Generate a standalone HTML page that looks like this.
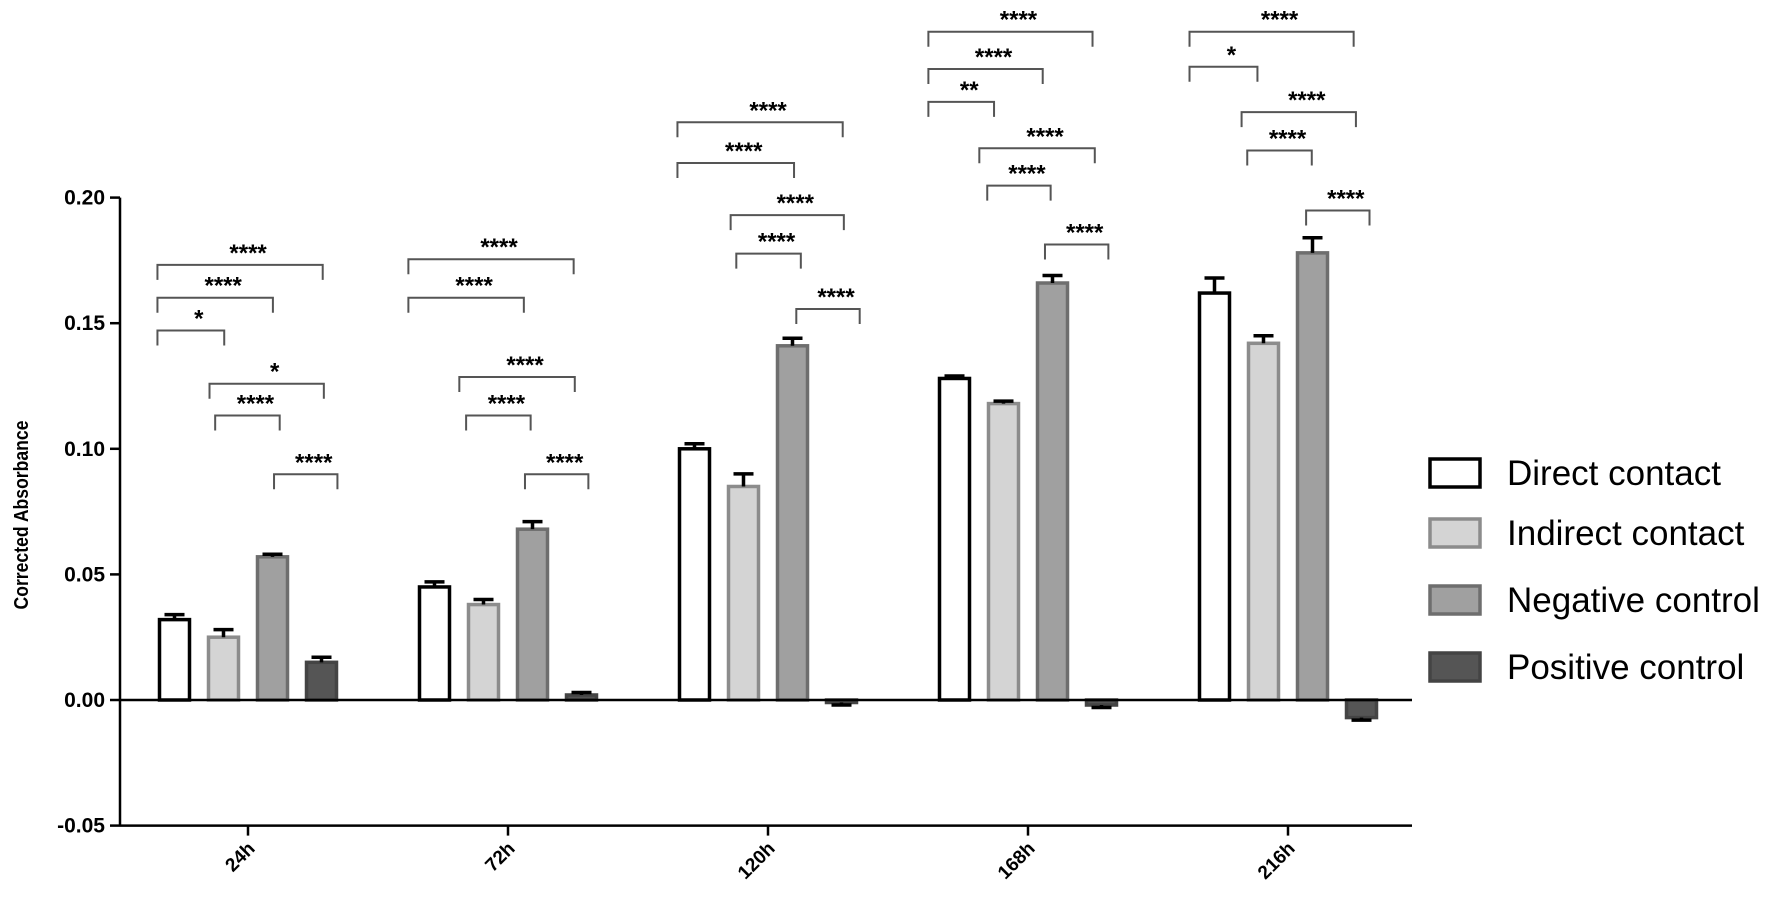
<!DOCTYPE html>
<html><head><meta charset="utf-8"><style>
html,body{margin:0;padding:0;background:#fff;}
svg{display:block;font-family:"Liberation Sans",sans-serif;}
</style></head><body>
<svg id="chart" width="1772" height="901" viewBox="0 0 1772 901" xmlns="http://www.w3.org/2000/svg">
<g id="plot"></g>
</svg>
<script>
const categories = ["24h","72h","120h","168h","216h"];
const seriesNames = ["Direct contact","Indirect contact","Negative control","Positive control"];
const directVals = [0.032,0.045,0.100,0.128,0.162];
const indirectVals = [0.025,0.038,0.085,0.118,0.142];
const negativeVals = [0.057,0.068,0.141,0.166,0.178];
const positiveVals = [0.015,0.002,-0.001,-0.002,-0.007];
const directErr = [0.002,0.002,0.002,0.001,0.006];
const indirectErr = [0.003,0.002,0.005,0.001,0.003];
const negativeErr = [0.001,0.003,0.003,0.003,0.006];
const positiveErr = [0.002,0.001,0.001,0.001,0.001];
const yTicks = [-0.05,0,0.05,0.10,0.15,0.20];
const yTickLabels = ["-0.05","0.00","0.05","0.10","0.15","0.20"];
// significance annotations: [group, x1 offset, x2 offset, y (perceived scale), label]
const sigs = [
 [0,-80,66,234,"****"],[0,-80,22,263,"****"],[0,-80,-21,292,"*"],[0,-34,67,339,"*"],[0,-29,28,367,"****"],[0,23,79,419,"****"],
 [1,-88,58,229,"****"],[1,-88,14,263,"****"],[1,-43,59,333,"****"],[1,-37,20,367,"****"],[1,15,71,419,"****"],
 [2,-80,66,108,"****"],[2,-80,23,144,"****"],[2,-33,67,190,"****"],[2,-28,29,224,"****"],[2,25,81,273,"****"],
 [3,-88,57,28,"****"],[3,-88,13,61,"****"],[3,-88,-30,90,"**"],[3,-43,59,131,"****"],[3,-36,20,164,"****"],[3,15,71,216,"****"],
 [4,-87,58,28,"****"],[4,-87,-27,59,"*"],[4,-41,60,99,"****"],[4,-36,21,133,"****"],[4,16,72,186,"****"]
];
const S = 1.132;
const NS="http://www.w3.org/2000/svg";
const g=document.getElementById('plot');
const x0=120, x1=1412;
function yScale(v){return 700 - v*2512;}
function xCenter(i){return 248 + i*260;}
const barOff=[-73.5,-24.5,24.5,73.5], bw=30;
const fills=["#ffffff","#d4d4d4","#a0a0a0","#555555"];
const strokes=["#000000","#8c8c8c","#6e6e6e","#444444"];
const vals=[directVals,indirectVals,negativeVals,positiveVals];
const errs=[directErr,indirectErr,negativeErr,positiveErr];
function mk(tag,attrs,parent){const e=document.createElementNS(NS,tag);for(const k in attrs)e.setAttribute(k,attrs[k]);(parent||g).appendChild(e);return e;}
let e;
e=mk('line',{x1:x0,y1:yScale(0.2),x2:x0,y2:yScale(-0.05),stroke:'#000','stroke-width':2.5});


e=mk('line',{x1:x0,y1:yScale(-0.05),x2:x1,y2:yScale(-0.05),stroke:'#000','stroke-width':2.5});


yTicks.forEach((t,i)=>{
 const y=yScale(t);
 e=mk('line',{x1:x0-10,y1:y,x2:x0,y2:y,stroke:'#000','stroke-width':2.5});
 
 
 e=mk('text',{x:x0-15,y:y+7,'text-anchor':'end','font-size':21,'font-weight':'bold'});
 e.textContent=yTickLabels[i];
 
 
});
e=mk('text',{x:0,y:0,transform:'translate(28,515) rotate(-90) scale(0.88,1)','text-anchor':'middle','font-size':20,'font-weight':'600'});
e.textContent='Corrected Absorbance';


categories.forEach((c,i)=>{
 const cx=xCenter(i);
 e=mk('line',{x1:cx,y1:yScale(-0.05),x2:cx,y2:yScale(-0.05)+10,stroke:'#000','stroke-width':2.5});
 
 
 e=mk('text',{x:0,y:0,transform:`translate(${cx+8},${yScale(-0.05)+24}) rotate(-45)`,'text-anchor':'end','font-size':19,'font-weight':'bold'});
 e.textContent=c;
 
 
});
categories.forEach((c,i)=>{
 for(let s=0;s<4;s++){
  const v=vals[s][i], er=errs[s][i];
  const cx=xCenter(i)+barOff[s];
  const y0=yScale(0), yv=yScale(v);
  e=mk('rect',{x:cx-bw/2,y:Math.min(y0,yv),width:bw,height:Math.max(1,Math.abs(y0-yv)),fill:fills[s],stroke:strokes[s],'stroke-width':3.5});
  
  
  const ye=yScale(v+(v>=0?er:-er));
  e=mk('path',{d:`M${cx},${yv}V${ye}M${cx-10},${ye}H${cx+10}`,stroke:'#000','stroke-width':3.5,fill:'none'});
  
  
 }
});
e=mk('line',{x1:x0,y1:yScale(0),x2:x1,y2:yScale(0),stroke:'#000','stroke-width':2.5});


sigs.forEach(s=>{
 const base=xCenter(s[0]);
 const a=base+s[1]*S, b=base+s[2]*S, y=s[3]*S;
 e=mk('path',{d:`M${a},${y+15}V${y}H${b}V${y+15}`,stroke:'#555','stroke-width':2,fill:'none'});
 
 
 e=mk('text',{x:(a+b)/2+8,y:y-4,'text-anchor':'middle','font-size':24,'font-weight':'bold'});
 e.textContent=s[4];
 
 
});
const legY=[473,533,600,667];
seriesNames.forEach((n,i)=>{
 e=mk('rect',{x:1430,y:legY[i]-14,width:50,height:28,fill:fills[i],stroke:strokes[i],'stroke-width':3.5});
 
 
 e=mk('text',{x:1507,y:legY[i]+12,'font-size':35});
 e.textContent=n;
 
 
});
</script>
</body></html>
